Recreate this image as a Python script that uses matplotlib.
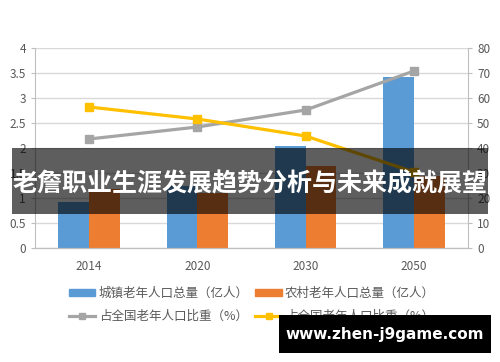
import matplotlib
matplotlib.use("Agg")
import matplotlib.pyplot as plt
from matplotlib.patches import Rectangle
from matplotlib.lines import Line2D
import numpy as np

plt.rcParams['font.family'] = ['Noto Sans CJK SC', 'DejaVu Sans']

years = ["2014", "2020", "2030", "2050"]
urban = [0.93, 1.25, 2.04, 3.42]
rural = [1.18, 1.10, 1.64, 1.45]
share_gray = [43.6, 48.4, 55.2, 70.8]
share_yellow = [56.4, 51.6, 44.8, 30.4]
left_ticks = [0, 0.5, 1, 1.5, 2, 2.5, 3, 3.5, 4]
left_labels = ["0", "0.5", "1", "1.5", "2", "2.5", "3", "3.5", "4"]
right_ticks = [0, 10, 20, 30, 40, 50, 60, 70, 80]
labels = ["城镇老年人口总量（亿人）", "农村老年人口总量（亿人）",
          "占全国老年人口比重（%）", "占全国老年人口比重（%）"]
title = "老詹职业生涯发展趋势分析与未来成就展望"
watermark = "www.zhen-j9game.com"

BLUE = "#5B9BD5"
ORANGE = "#ED7D31"
GRAY = "#A5A5A5"
YELLOW = "#FFC000"
TXT = "#595959"
AX = "#BFBFBF"

W, H = 500, 362
fig = plt.figure(figsize=(5, 3.62), dpi=100)
ax = fig.add_axes([35 / W, 1 - 248 / H, (468 - 35) / W, (248 - 48) / H])
ax2 = ax.twinx()

x = np.arange(len(years))
bw = 0.285
ax.bar(x - bw / 2, urban, bw, color=BLUE, zorder=2)
ax.bar(x + bw / 2, rural, bw, color=ORANGE, zorder=2)
ax.set_ylim(0, 4)
ax.set_xlim(-0.5, len(years) - 0.5)
ax.set_yticks(left_ticks)
ax.set_yticklabels(left_labels)
ax.set_xticks(x)
ax.set_xticklabels(years)
ax.grid(axis='y', color="#D9D9D9", linewidth=1, zorder=0)
ax.set_axisbelow(True)

ax2.plot(x, share_gray, color=GRAY, linewidth=2.3, marker='s', markersize=6, zorder=3)
ax2.plot(x, share_yellow, color=YELLOW, linewidth=2.3, marker='s', markersize=6, zorder=3)
ax2.set_ylim(0, 80)
ax2.set_yticks(right_ticks)

for a in (ax, ax2):
    a.spines["top"].set_visible(False)
    for s in ("left", "right", "bottom"):
        a.spines[s].set_color(AX)
    a.tick_params(colors=TXT, labelsize=8.5, length=3, width=0.8)
    a.tick_params(axis='y', color=AX)
ax.tick_params(axis='x', length=0, pad=9)
ax.spines["right"].set_visible(False)
ax2.spines["left"].set_visible(False)

handles = [Rectangle((0, 0), 1, 1, color=BLUE),
           Line2D([], [], color=GRAY, linewidth=2.3, marker='s', markersize=5),
           Rectangle((0, 0), 1, 1, color=ORANGE),
           Line2D([], [], color=YELLOW, linewidth=2.3, marker='s', markersize=5)]
hl = [labels[0], labels[2], labels[1], labels[3]]
leg = fig.legend(handles, hl, ncol=2, frameon=False, fontsize=9,
                 labelcolor=TXT, handlelength=2.1, handleheight=0.45,
                 handletextpad=0.25, columnspacing=0.55, labelspacing=0.8,
                 loc='center', bbox_to_anchor=(252 / W, 1 - 305 / H))
leg.set_zorder(5)

band = Rectangle((12 / W, 1 - 214 / H), (488 - 12) / W, (214 - 148) / H,
                 transform=fig.transFigure, facecolor='black', alpha=0.63,
                 edgecolor='none', zorder=6)
fig.patches.append(band)
fig.text(250 / W, 1 - 184 / H, title, color='white', fontsize=18,
         fontweight='bold', ha='center', va='center', zorder=7)

wm = Rectangle((279 / W, 1 - 353 / H), (491 - 279) / W, (353 - 315) / H,
               transform=fig.transFigure, facecolor='black', edgecolor='none',
               zorder=8)
fig.patches.append(wm)
fig.text(385 / W, 1 - 334 / H, watermark, color='white', fontsize=11,
         fontweight='bold', ha='center', va='center', zorder=9,
         family='DejaVu Sans')

fig.savefig("out.png", dpi=100)
